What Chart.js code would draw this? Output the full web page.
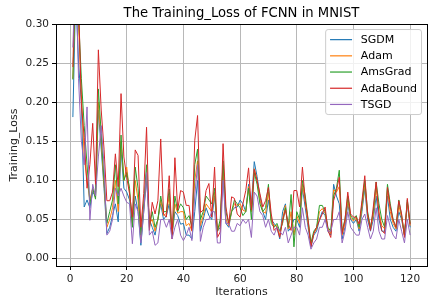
<!DOCTYPE html>
<html>
<head>
<meta charset="utf-8">
<script src="https://cdn.jsdelivr.net/npm/chart.js@4.4.1/dist/chart.umd.min.js"></script>
<style>
  html, body { margin: 0; padding: 0; background: #fff; }
</style>
</head>
<body>
<canvas id="lossChart" width="436" height="308"></canvas>
<script>
// iterations 1..120
const iterations = Array.from({ length: 120 }, (_, i) => i + 1);
const xTicks = [0, 20, 40, 60, 80, 100, 120];
const yTicks = [0.0, 0.05, 0.1, 0.15, 0.2, 0.25, 0.3];

const seriesNames = ["SGDM", "Adam", "AmsGrad", "AdaBound", "TSGD"];
const seriesColors = ["#1f77b4", "#ff7f0e", "#2ca02c", "#d62728", "#9467bd"];

const sgdm = [
  0.181, 0.34, 0.25, 0.20, 0.066, 0.075, 0.065, 0.085, 0.080, 0.190,
  0.140, 0.090, 0.032, 0.040, 0.055, 0.070, 0.047, 0.140, 0.090, 0.085,
  0.075, 0.045, 0.080, 0.060, 0.017, 0.060, 0.100, 0.050, 0.040, 0.030,
  0.050, 0.070, 0.050, 0.055, 0.070, 0.030, 0.060, 0.055, 0.044, 0.045,
  0.030, 0.030, 0.025, 0.060, 0.100, 0.035, 0.050, 0.065, 0.055, 0.050,
  0.080, 0.035, 0.040, 0.110, 0.045, 0.040, 0.060, 0.065, 0.066, 0.075,
  0.070, 0.060, 0.095, 0.070, 0.124, 0.105, 0.080, 0.060, 0.050, 0.075,
  0.050, 0.045, 0.040, 0.025, 0.060, 0.070, 0.035, 0.040, 0.050, 0.050,
  0.040, 0.090, 0.065, 0.040, 0.015, 0.030, 0.035, 0.050, 0.060, 0.055,
  0.035, 0.030, 0.095, 0.080, 0.070, 0.025, 0.040, 0.070, 0.050, 0.045,
  0.050, 0.035, 0.060, 0.090, 0.050, 0.035, 0.050, 0.080, 0.050, 0.035,
  0.035, 0.080, 0.050, 0.040, 0.035, 0.060, 0.050, 0.030, 0.070, 0.040
];
const adam = [
  0.230, 0.36, 0.30, 0.21, 0.13, 0.10, 0.075, 0.090, 0.078, 0.200,
  0.150, 0.095, 0.040, 0.050, 0.065, 0.100, 0.060, 0.150, 0.100, 0.117,
  0.085, 0.042, 0.100, 0.075, 0.025, 0.065, 0.110, 0.045, 0.050, 0.035,
  0.050, 0.075, 0.055, 0.058, 0.080, 0.030, 0.070, 0.058, 0.060, 0.060,
  0.042, 0.045, 0.035, 0.100, 0.125, 0.042, 0.055, 0.070, 0.065, 0.060,
  0.085, 0.035, 0.045, 0.120, 0.050, 0.042, 0.060, 0.070, 0.068, 0.070,
  0.062, 0.060, 0.092, 0.060, 0.115, 0.100, 0.075, 0.060, 0.058, 0.085,
  0.048, 0.042, 0.042, 0.030, 0.050, 0.068, 0.038, 0.060, 0.030, 0.055,
  0.045, 0.095, 0.072, 0.045, 0.018, 0.032, 0.038, 0.060, 0.064, 0.058,
  0.038, 0.032, 0.088, 0.085, 0.092, 0.030, 0.045, 0.075, 0.052, 0.048,
  0.052, 0.038, 0.065, 0.095, 0.055, 0.038, 0.055, 0.090, 0.060, 0.042,
  0.038, 0.088, 0.060, 0.045, 0.038, 0.068, 0.052, 0.030, 0.072, 0.042
];
const amsgrad = [
  0.229, 0.36, 0.31, 0.23, 0.17, 0.12, 0.070, 0.090, 0.076, 0.217,
  0.160, 0.100, 0.045, 0.060, 0.075, 0.120, 0.070, 0.158, 0.100, 0.110,
  0.090, 0.040, 0.117, 0.090, 0.030, 0.070, 0.120, 0.040, 0.060, 0.040,
  0.050, 0.080, 0.060, 0.060, 0.089, 0.030, 0.080, 0.060, 0.070, 0.065,
  0.050, 0.055, 0.040, 0.120, 0.140, 0.050, 0.060, 0.080, 0.075, 0.070,
  0.090, 0.035, 0.050, 0.125, 0.060, 0.045, 0.060, 0.075, 0.070, 0.065,
  0.055, 0.060, 0.090, 0.050, 0.110, 0.095, 0.070, 0.060, 0.065, 0.095,
  0.045, 0.040, 0.045, 0.035, 0.045, 0.065, 0.040, 0.082, 0.015, 0.060,
  0.050, 0.100, 0.080, 0.050, 0.020, 0.035, 0.040, 0.068, 0.068, 0.060,
  0.040, 0.035, 0.080, 0.090, 0.113, 0.035, 0.050, 0.080, 0.055, 0.050,
  0.055, 0.040, 0.070, 0.100, 0.060, 0.040, 0.060, 0.098, 0.070, 0.050,
  0.040, 0.095, 0.070, 0.050, 0.040, 0.075, 0.055, 0.030, 0.075, 0.045
];
const adabound = [
  0.245, 0.40, 0.33, 0.198, 0.155, 0.090, 0.120, 0.173, 0.095, 0.267,
  0.190, 0.140, 0.074, 0.074, 0.085, 0.134, 0.092, 0.211, 0.130, 0.104,
  0.083, 0.053, 0.139, 0.132, 0.040, 0.083, 0.168, 0.036, 0.072, 0.057,
  0.074, 0.153, 0.057, 0.053, 0.106, 0.025, 0.129, 0.062, 0.087, 0.085,
  0.068, 0.068, 0.036, 0.151, 0.183, 0.059, 0.062, 0.087, 0.096, 0.053,
  0.117, 0.027, 0.034, 0.147, 0.066, 0.044, 0.079, 0.077, 0.057, 0.053,
  0.070, 0.087, 0.116, 0.062, 0.114, 0.100, 0.083, 0.066, 0.074, 0.091,
  0.057, 0.036, 0.040, 0.027, 0.049, 0.062, 0.044, 0.036, 0.087, 0.087,
  0.066, 0.117, 0.074, 0.049, 0.015, 0.032, 0.040, 0.049, 0.057, 0.066,
  0.036, 0.027, 0.074, 0.087, 0.104, 0.032, 0.049, 0.085, 0.057, 0.053,
  0.053, 0.044, 0.074, 0.106, 0.057, 0.036, 0.066, 0.098, 0.057, 0.036,
  0.032, 0.091, 0.066, 0.049, 0.040, 0.074, 0.057, 0.027, 0.077, 0.044
];
const tsgd = [
  0.270, 0.38, 0.23, 0.15, 0.12, 0.194, 0.049, 0.095, 0.080, 0.130,
  0.170, 0.120, 0.030, 0.035, 0.050, 0.090, 0.080, 0.090, 0.080, 0.072,
  0.070, 0.019, 0.070, 0.060, 0.020, 0.060, 0.110, 0.030, 0.035, 0.017,
  0.020, 0.050, 0.050, 0.040, 0.050, 0.025, 0.040, 0.050, 0.030, 0.023,
  0.030, 0.040, 0.023, 0.080, 0.120, 0.022, 0.040, 0.050, 0.050, 0.060,
  0.060, 0.020, 0.020, 0.100, 0.045, 0.045, 0.035, 0.035, 0.045, 0.042,
  0.050, 0.045, 0.050, 0.027, 0.085, 0.080, 0.060, 0.055, 0.040, 0.050,
  0.035, 0.030, 0.040, 0.035, 0.030, 0.040, 0.020, 0.030, 0.040, 0.040,
  0.030, 0.065, 0.040, 0.030, 0.012, 0.020, 0.025, 0.040, 0.040, 0.050,
  0.035, 0.035, 0.050, 0.050, 0.060, 0.020, 0.035, 0.060, 0.040, 0.035,
  0.030, 0.030, 0.050, 0.057, 0.040, 0.025, 0.035, 0.065, 0.035, 0.025,
  0.025, 0.055, 0.040, 0.030, 0.025, 0.050, 0.035, 0.020, 0.050, 0.030
];

const allSeries = [sgdm, adam, amsgrad, adabound, tsgd];
const FONT = '"DejaVu Sans", Verdana, sans-serif';

// axes frame (all four spines)
const framePlugin = {
  id: "frame",
  afterDatasetsDraw(chart) {
    const { ctx, chartArea: a } = chart;
    ctx.save();
    ctx.strokeStyle = "#000";
    ctx.lineWidth = 1;
    ctx.strokeRect(Math.round(a.left) + 0.5, Math.round(a.top) + 0.5,
      Math.round(a.right - a.left), Math.round(a.bottom - a.top));
    ctx.restore();
  }
};

// matplotlib-like legend in the upper right corner
const legendPlugin = {
  id: "boxLegend",
  afterDraw(chart) {
    const { ctx, chartArea: a } = chart;
    const sets = chart.data.datasets;
    ctx.save();
    ctx.font = "11px " + FONT;
    let maxW = 0;
    sets.forEach((d) => { maxW = Math.max(maxW, ctx.measureText(d.label).width); });
    const w = 4.4 + 22 + 8.8 + maxW + 4.4;
    const rowH = 16.2;
    const h = 10.1 * 2 + rowH * (sets.length - 1);
    const x = a.right - 5.5 - w;
    const y = a.top + 5.5;
    const r = 2.5;
    ctx.beginPath();
    ctx.moveTo(x + r, y);
    ctx.arcTo(x + w, y, x + w, y + h, r);
    ctx.arcTo(x + w, y + h, x, y + h, r);
    ctx.arcTo(x, y + h, x, y, r);
    ctx.arcTo(x, y, x + w, y, r);
    ctx.closePath();
    ctx.fillStyle = "rgba(255,255,255,0.8)";
    ctx.fill();
    ctx.strokeStyle = "#cccccc";
    ctx.lineWidth = 1;
    ctx.stroke();
    sets.forEach((d, i) => {
      const cy = y + 10.1 + rowH * i;
      ctx.strokeStyle = d.borderColor;
      ctx.lineWidth = 1.2;
      ctx.beginPath();
      ctx.moveTo(x + 4.4, cy);
      ctx.lineTo(x + 26.4, cy);
      ctx.stroke();
      ctx.fillStyle = "#000";
      ctx.textBaseline = "middle";
      ctx.textAlign = "left";
      ctx.fillText(d.label, x + 35.2, cy + 0.5);
    });
    ctx.restore();
  }
};

const datasets = seriesNames.map((name, k) => ({
  label: name,
  data: iterations.map((it, i) => ({ x: it, y: allSeries[k][i] })),
  borderColor: seriesColors[k],
  backgroundColor: seriesColors[k],
  borderWidth: 1,
  pointRadius: 0,
  tension: 0,
  fill: false,
  order: seriesNames.length - k
}));

new Chart(document.getElementById("lossChart"), {
  type: "line",
  data: { datasets: datasets },
  options: {
    responsive: false,
    animation: false,
    devicePixelRatio: 1,
    layout: { padding: { top: 0, right: 9, bottom: 0, left: 0 } },
    plugins: {
      legend: { display: false },
      tooltip: { enabled: false },
      title: {
        display: true,
        fullSize: false,
        text: "The Training_Loss of FCNN in MNIST",
        color: "#000",
        font: { family: FONT, size: 13.2, weight: "normal" },
        padding: { top: 5.5, bottom: 2.7 }
      }
    },
    scales: {
      x: {
        type: "linear",
        min: -4.95,
        max: 125.95,
        afterBuildTicks: (axis) => { axis.ticks = xTicks.map((v) => ({ value: v })); },
        afterFit: (axis) => { axis.height = 42; },
        grid: { color: "#b8b8b8", lineWidth: 1, drawTicks: true, tickLength: 4, tickColor: "#000", tickWidth: 1 },
        border: { display: false },
        ticks: { color: "#222", padding: 3, maxRotation: 0, font: { family: FONT, size: 10.5 } },
        title: { display: true, text: "Iterations", color: "#222", font: { family: FONT, size: 11 }, padding: { top: 0, bottom: 9 } }
      },
      y: {
        type: "linear",
        min: -0.0095,
        max: 0.30,
        afterBuildTicks: (axis) => { axis.ticks = yTicks.map((v) => ({ value: v })); },
        afterFit: (axis) => { axis.width = 56; },
        grid: { color: "#b8b8b8", lineWidth: 1, drawTicks: true, tickLength: 4, tickColor: "#000", tickWidth: 1 },
        border: { display: false },
        ticks: { color: "#222", padding: 3, font: { family: FONT, size: 10.5 }, callback: (v) => v.toFixed(2) },
        title: { display: true, text: "Training_Loss", color: "#222", font: { family: FONT, size: 11 }, padding: { top: 8, bottom: 0 } }
      }
    }
  },
  plugins: [framePlugin, legendPlugin]
});
</script>
</body>
</html>
